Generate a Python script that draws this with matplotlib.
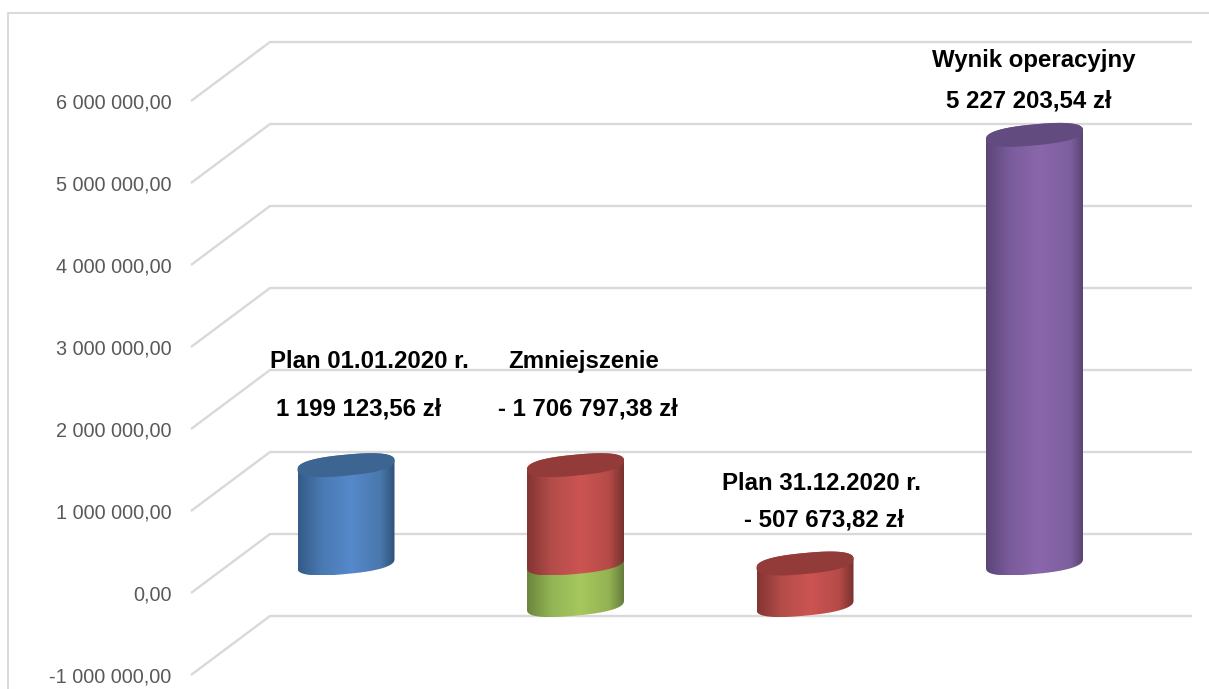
import matplotlib
matplotlib.use('Agg')
import matplotlib.pyplot as plt
import numpy as np
from matplotlib.colors import LinearSegmentedColormap
from matplotlib.lines import Line2D
from matplotlib.patches import Polygon

# values
tick_vals = [-1000000, 0, 1000000, 2000000, 3000000, 4000000, 5000000, 6000000]
tick_labels = ['-1 000 000,00', '0,00', '1 000 000,00', '2 000 000,00',
               '3 000 000,00', '4 000 000,00', '5 000 000,00', '6 000 000,00']
blue_vals = [1199123.56, 0, 0, 0]
red_vals = [0, 1199123.56, -507673.82, 0]
green_vals = [0, -507673.82, 0, 0]
purple_vals = [0, 0, 0, 5227203.54]

# label text and pixel centre in the picture
labels = [('Plan 01.01.2020 r.', 369, 361), ('1 199 123,56 zł', 359, 409),
          ('Zmniejszenie', 584, 362), ('- 1 706 797,38 zł', 588, 409),
          ('Plan 31.12.2020 r.', 822, 484), ('- 507 673,82 zł', 824, 520),
          ('Wynik operacyjny', 1034, 60), ('5 227 203,54 zł', 1029, 101)]

W, H = 1209, 689
FONT = ['Liberation Sans', 'DejaVu Sans']
plt.rcParams['font.family'] = FONT

px_y = 82 / 1e6      # pixels per unit of value
px_x = 229.5         # pixels per category
left_px, right_px = 191, 1192
zero_px = 593        # front edge of the zero gridline

fig = plt.figure(figsize=(W / 100, H / 100), dpi=100, facecolor='white')
ax = fig.add_axes([left_px / W, 0, (right_px - left_px) / W, 1])
ax.set_xlim((left_px - 346) / px_x, (right_px - 346) / px_x)
ylim = ((zero_px - H) / px_y, zero_px / px_y)
ax.set_ylim(ylim)
ax.patch.set_alpha(0)
for s in ax.spines.values():
    s.set_visible(False)

ax.set_xticks([])
ax.set_yticks(tick_vals)
ax.set_yticklabels(tick_labels, color='#595959', fontsize=14.3)
ax.tick_params(axis='y', length=0, pad=14)

# floor depth of the 3d box
depth_x = 79 / px_x
depth_y = 59 / px_y
x0 = ax.get_xlim()[0]
x1 = ax.get_xlim()[1]
for v in tick_vals:
    ax.plot([x0, x0 + depth_x, x1], [v, v + depth_y, v + depth_y], color='#d9d9d9',
            linewidth=1.7, solid_joinstyle='miter', solid_capstyle='butt', clip_on=False, zorder=1)

a = 48.5 / px_x
b = 10.5 / px_y
tilt = 4.5 / px_y
mid = depth_y / 2
rnd = 0.8  # cap outline is a bit fuller than a true ellipse


def ell(cx, v, t):
    c = np.sign(np.cos(t)) * np.abs(np.cos(t)) ** rnd
    s = np.sign(np.sin(t)) * np.abs(np.sin(t)) ** rnd
    return cx + a * c, v + mid + tilt * c + b * s


def cylinder(cx, v0, v1, stops, z=3):
    lo, hi = min(v0, v1), max(v0, v1)
    t_low = np.linspace(np.pi, 2 * np.pi, 60)
    t_up = np.linspace(0, np.pi, 60)
    xa, ya = ell(cx, lo, t_low)
    xb, yb = ell(cx, hi, t_up)
    pts = np.column_stack([np.r_[xa, xb], np.r_[ya, yb]])
    cmap = LinearSegmentedColormap.from_list('c', stops)
    grad = np.linspace(0, 1, 200).reshape(1, -1)
    im = ax.imshow(grad, cmap=cmap, aspect='auto', zorder=z, interpolation='bilinear',
                   extent=(cx - a, cx + a, pts[:, 1].min(), pts[:, 1].max()))
    im.set_clip_path(Polygon(pts, transform=ax.transData))
    return im


def cap(cx, v, col, z=4):
    xc, yc = ell(cx, v, np.linspace(0, 2 * np.pi, 160))
    ax.fill(xc, yc, color=col, linewidth=0, zorder=z)


blue = [(0, '#345b88'), (0.25, '#4a7ab3'), (0.55, '#5589ca'), (0.85, '#4a78ae'), (1, '#2f5379')]
red = [(0, '#843432'), (0.25, '#b34d4a'), (0.55, '#cc5452'), (0.85, '#b54b48'), (1, '#78322f')]
green = [(0, '#6b863c'), (0.25, '#93b455'), (0.55, '#a6c85d'), (0.85, '#93b252'), (1, '#667e3c')]
purple = [(0, '#5c4479'), (0.25, '#7a5c9b'), (0.55, '#8a67ab'), (0.88, '#7c5e9d'), (1, '#5a4575')]

for i in range(4):
    if green_vals[i] != 0:
        cylinder(i, 0, green_vals[i], green, z=3)
    if blue_vals[i] != 0:
        cylinder(i, 0, blue_vals[i], blue, z=3)
        cap(i, blue_vals[i], '#3c6592')
    if red_vals[i] != 0:
        cylinder(i, 0, red_vals[i], red, z=4)
        cap(i, max(red_vals[i], 0), '#933b39', z=5)
    if purple_vals[i] != 0:
        cylinder(i, 0, purple_vals[i], purple, z=3)
        cap(i, purple_vals[i], '#614b7f')

ax.set_xlim(x0, x1)
ax.set_ylim(ylim)

for txt, x, y in labels:
    fig.text(x / W, 1 - y / H, txt, ha='center', va='center', fontsize=17.3,
             fontweight='bold', color='black')

# outer chart border
fig.add_artist(Line2D([8 / W, 8 / W, 1], [0, 1 - 13 / H, 1 - 13 / H], color='#d9d9d9', linewidth=1.4))

fig.savefig('out.png', dpi=100)
